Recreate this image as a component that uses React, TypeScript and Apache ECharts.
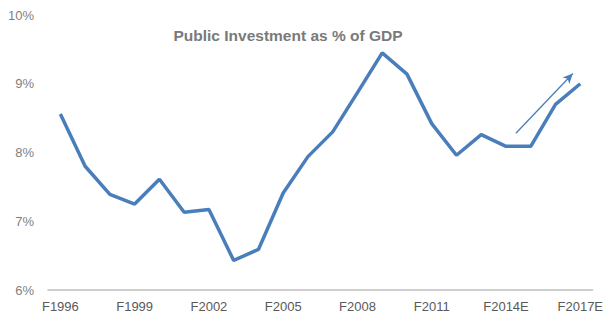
import React, { useEffect, useRef } from "react";
import * as echarts from "echarts";

const years = ["F1996","F1997","F1998","F1999","F2000","F2001","F2002","F2003","F2004","F2005","F2006","F2007","F2008","F2009","F2010","F2011","F2012","F2013","F2014E","F2015E","F2016E","F2017E"];
const investment = [8.56,7.80,7.39,7.25,7.61,7.13,7.17,6.43,6.59,7.41,7.94,8.30,8.87,9.45,9.14,8.42,7.96,8.26,8.09,8.09,8.70,9.00];
// trend arrow, in (category position, %) units
const arrowFrom = [18.4, 8.28];
const arrowTo = [20.7, 9.15];

const FONT = "Liberation Sans, Arial, sans-serif";

export default function App() {
  const ref = useRef<HTMLDivElement>(null);
  useEffect(() => {
    const chart = echarts.init(ref.current!, null, { renderer: "svg" });
    chart.setOption({
      animation: false,
      textStyle: { fontFamily: FONT },
      title: {
        text: "Public Investment as % of GDP",
        left: 283,
        textAlign: "center",
        top: 22,
        textStyle: { fontSize: 15.5, fontWeight: "bold", color: "#7a7a7a", fontFamily: FONT },
      },
      grid: { left: 48, right: 12, top: 15, bottom: 28, containLabel: false },
      xAxis: [
        {
          type: "category",
          data: years,
          boundaryGap: true,
          axisLine: { lineStyle: { color: "#bfbfbf", width: 1.5 } },
          axisTick: { show: false },
          axisLabel: { interval: 2, color: "#595959", fontSize: 13, margin: 10 },
        },
        {
          type: "value",
          min: -0.5,
          max: years.length - 0.5,
          show: false,
          splitLine: { show: false },
        },
      ],
      yAxis: {
        type: "value",
        min: 6,
        max: 10,
        interval: 1,
        axisLine: { show: false },
        axisTick: { show: false },
        splitLine: { show: false },
        axisLabel: { formatter: "{value}%", color: "#7f7f7f", fontSize: 13, margin: 14 },
      },
      series: [
        {
          type: "line",
          data: investment,
          symbol: "none",
          lineStyle: { color: "#4a7ebb", width: 3.5 },
        },
        {
          type: "line",
          xAxisIndex: 1,
          data: [],
          symbol: "none",
          markLine: {
            silent: true,
            symbol: ["none", "arrow"],
            symbolSize: [7, 10],
            label: { show: false },
            lineStyle: { color: "#4a7ebb", width: 1.3, type: "solid" },
            data: [[{ coord: arrowFrom }, { coord: arrowTo }]],
          },
        },
      ],
    });
    return () => chart.dispose();
  }, []);
  return <div ref={ref} style={{ width: 606, height: 318, position: "absolute", left: 0, top: 0 }} />;
}
